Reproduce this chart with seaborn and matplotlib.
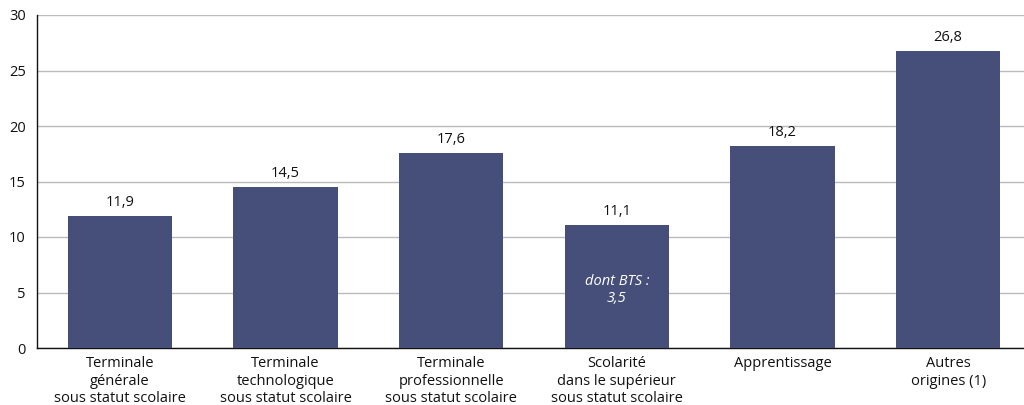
import matplotlib
matplotlib.use("Agg")
import matplotlib.pyplot as plt
import seaborn as sns
import pandas as pd

categories = [
    "Terminale\ngénérale\nsous statut scolaire",
    "Terminale\ntechnologique\nsous statut scolaire",
    "Terminale\nprofessionnelle\nsous statut scolaire",
    "Scolarité\ndans le supérieur\nsous statut scolaire",
    "Apprentissage",
    "Autres\norigines (1)",
]
values = [11.9, 14.5, 17.6, 11.1, 18.2, 26.8]
value_labels = ["11,9", "14,5", "17,6", "11,1", "18,2", "26,8"]
yticks = [0, 5, 10, 15, 20, 25, 30]
note_text = "dont BTS :\n3,5"
note_index = 3

sns.set_theme(style="white")
plt.rcParams["font.family"] = ["Open Sans", "DejaVu Sans"]

df = pd.DataFrame({"cat": categories, "val": values})

fig = plt.figure(figsize=(10.24, 4.05), dpi=100)
ax = fig.add_axes([37 / 1024, 57 / 405, (1031 - 37) / 1024, (348 - 15) / 405])

sns.barplot(data=df, x="cat", y="val", color="#454F7A", saturation=1,
            width=0.63, ax=ax, zorder=3, linewidth=0)

ax.set_ylim(0, 30)
ax.set_yticks(yticks)
ax.set_yticklabels([str(t) for t in yticks], fontsize=10.5, color="#111111")
ax.yaxis.grid(True, color="#bbbbbb", linewidth=1, zorder=0)
ax.set_axisbelow(True)
ax.set_xlabel("")
ax.set_ylabel("")
ax.tick_params(axis="x", labelsize=10.5, colors="#111111", length=0, pad=6)
ax.tick_params(axis="y", length=0, pad=8)
for s in ["top", "right"]:
    ax.spines[s].set_visible(False)
for s in ["left", "bottom"]:
    ax.spines[s].set_color("#111111")
    ax.spines[s].set_linewidth(1)

for i, (v, lab) in enumerate(zip(values, value_labels)):
    ax.annotate(lab, (i, v), xytext=(0, 4), textcoords="offset points",
                ha="center", va="bottom", fontsize=10.5, color="#111111")

ax.text(note_index, 5.2, note_text, ha="center", va="center", fontsize=10.5,
        color="white", style="italic")

fig.savefig("out.png", dpi=100)
